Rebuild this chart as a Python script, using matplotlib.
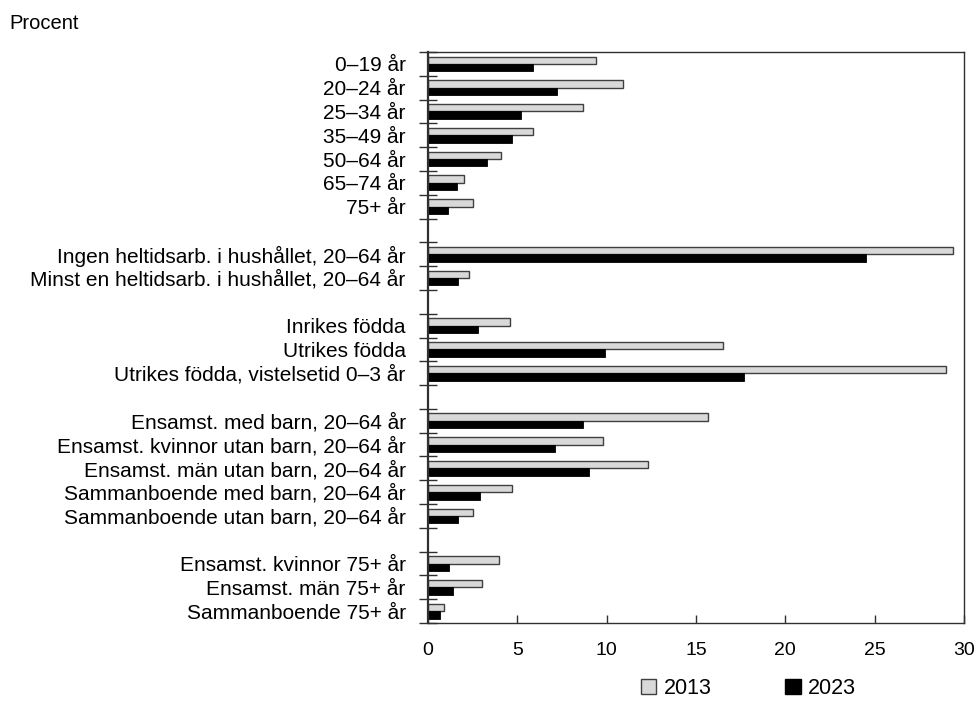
import numpy as np
import matplotlib
matplotlib.use('Agg')
import matplotlib.pyplot as plt
import matplotlib.patches as mpatches
import matplotlib.ticker as mticker

plt.rcParams['font.family'] = ['Liberation Sans', 'DejaVu Sans']

# categories, grouped (a blank slot between groups)
aGroup_sizes = [7, 2, 3, 5, 3]
aLabels = ['0–19 år', '20–24 år', '25–34 år', '35–49 år', '50–64 år', '65–74 år', '75+ år',
           'Ingen heltidsarb. i hushållet, 20–64 år', 'Minst en heltidsarb. i hushållet, 20–64 år',
           'Inrikes födda', 'Utrikes födda', 'Utrikes födda, vistelsetid 0–3 år',
           'Ensamst. med barn, 20–64 år', 'Ensamst. kvinnor utan barn, 20–64 år',
           'Ensamst. män utan barn, 20–64 år', 'Sammanboende med barn, 20–64 år',
           'Sammanboende utan barn, 20–64 år',
           'Ensamst. kvinnor 75+ år', 'Ensamst. män 75+ år', 'Sammanboende 75+ år']
aValues_2013 = [9.4, 10.9, 8.7, 5.9, 4.1, 2.0, 2.5,
                29.4, 2.3,
                4.6, 16.5, 29.0,
                15.7, 9.8, 12.3, 4.7, 2.5,
                4.0, 3.0, 0.9]
aValues_2023 = [5.9, 7.2, 5.2, 4.7, 3.3, 1.6, 1.1,
                24.5, 1.7,
                2.8, 9.9, 17.7,
                8.7, 7.1, 9.0, 2.9, 1.7,
                1.2, 1.4, 0.7]
aSeries = ['2013', '2023']

# slot positions (top to bottom) with one empty slot between groups
aPos = []
iSlot = 0
for iGroup, nSize in enumerate(aGroup_sizes):
    for k in range(nSize):
        aPos.append(iSlot + 0.5)
        iSlot += 1
    if iGroup < len(aGroup_sizes) - 1:
        iSlot += 1
nSlot = iSlot
aPos = np.array(aPos)

fig = plt.figure(figsize=(9.77, 7.02), dpi=100)
ax = fig.add_axes([0.438, 0.1125, 0.5487, 0.8134])

dHeight = 0.31
ax.barh(aPos - dHeight / 2, aValues_2013, height=dHeight, color='#d9d9d9',
        edgecolor='#404040', linewidth=1.0, label=aSeries[0])
ax.barh(aPos + dHeight / 2, aValues_2023, height=dHeight, color='black',
        edgecolor='black', linewidth=0.6, label=aSeries[1])

ax.set_ylim(nSlot, 0)
ax.set_xlim(0, 30)

ax.set_yticks(aPos)
ax.set_yticklabels(aLabels, fontsize=15)
ax.yaxis.set_minor_locator(mticker.FixedLocator(np.arange(0, nSlot + 1)))
ax.tick_params(axis='y', which='major', length=0, pad=16)
ax.tick_params(axis='y', which='minor', direction='inout', length=13, width=1.0, color='#303030')

ax.xaxis.set_major_locator(mticker.MultipleLocator(5))
ax.tick_params(axis='x', which='major', direction='in', length=6, width=1.0,
               labelsize=14, pad=14, color='#303030')

for sSide in ['top', 'right', 'bottom']:
    ax.spines[sSide].set_linewidth(1.0)
    ax.spines[sSide].set_color('#303030')
ax.spines['left'].set_linewidth(1.6)
ax.spines['left'].set_color('#303030')

fig.text(0.010, 0.967, 'Procent', fontsize=14.5, ha='left', va='center')

aHandles = [mpatches.Patch(facecolor='#d9d9d9', edgecolor='#404040', linewidth=1.0),
            mpatches.Patch(facecolor='black', edgecolor='black')]
fig.legend(aHandles, aSeries, loc='center', bbox_to_anchor=(0.766, 0.019), ncol=2,
           frameon=False, fontsize=15.5, handlelength=0.73, handleheight=0.73,
           handletextpad=0.35, columnspacing=3.4, borderpad=0.0)

plt.savefig('out.png', dpi=100)
plt.close(fig)
